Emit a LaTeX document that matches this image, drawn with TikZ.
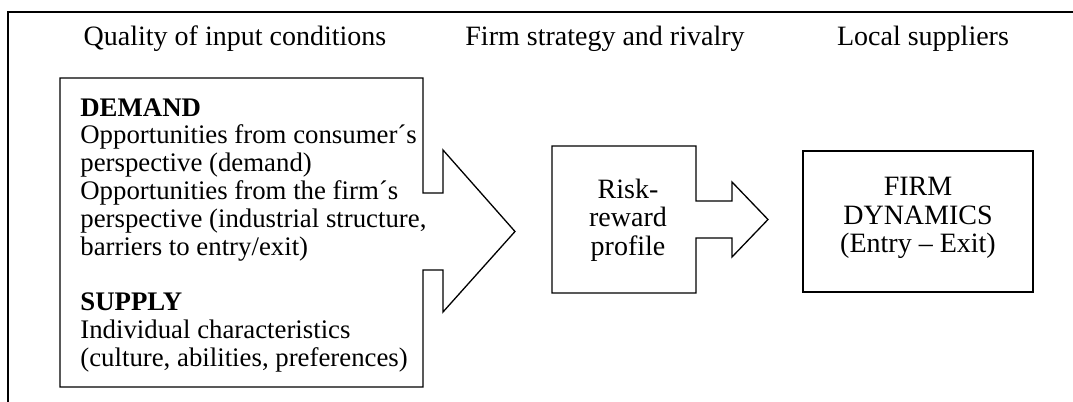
\documentclass[tikz,border=0pt]{standalone}
\usepackage{fontspec}
\setmainfont{Liberation Serif}
\usetikzlibrary{calc}

\begin{document}
\begin{tikzpicture}[x=0.5pt,y=-0.5pt,
  every node/.style={font=\fontsize{14}{14}\selectfont,inner sep=0pt},
  heading/.style={anchor=base},
  boxtext/.style={align=left,anchor=north west,font=\fontsize{13.4}{13.9}\selectfont},
  midtext/.style={align=center,anchor=north,font=\fontsize{14}{14.2}\selectfont},
  outline/.style={line width=0.65pt,line join=miter}]
\useasboundingbox (0,0) rectangle (1073,402);
\draw[line width=0.8pt]
(8,402) -- (8,12) -- (1073,12);

\node[heading] (quality) at (235,45) {Quality of input conditions};
\node[heading] (rivalry) at (605,45) {Firm strategy and rivalry};
\node[heading] (suppliers) at (923,45) {Local suppliers};

\node[boxtext] (input) at (80,98) {\textbf{DEMAND}\\
Opportunities from consumer´s\\
perspective (demand)\\
Opportunities from the firm´s\\
perspective (industrial structure,\\
barriers to entry/exit)\\[13.9pt]
\textbf{SUPPLY}\\
Individual characteristics\\
(culture, abilities, preferences)};
\node[midtext] (risk) at (628,178.5) {Risk-\\reward\\profile};
\node[midtext] (dynamics) at (918,177) {FIRM\\DYNAMICS\\(Entry -- Exit)};

\draw[outline]
(60,78) -- (423,78) -- (423,193) -- (443,193) -- (443,150) -- (515,231.5)
-- (443,312) -- (443,270) -- (423,270) -- (423,387) -- (60,387) -- cycle;
\draw[outline]
(552,146) -- (696,146) -- (696,201) -- (732,201) -- (732,182) -- (768,219.5)
-- (732,257) -- (732,238) -- (696,238) -- (696,293) -- (552,293) -- cycle;
\draw[outline]
(803,151) rectangle (1033,292);
\end{tikzpicture}
\end{document}
